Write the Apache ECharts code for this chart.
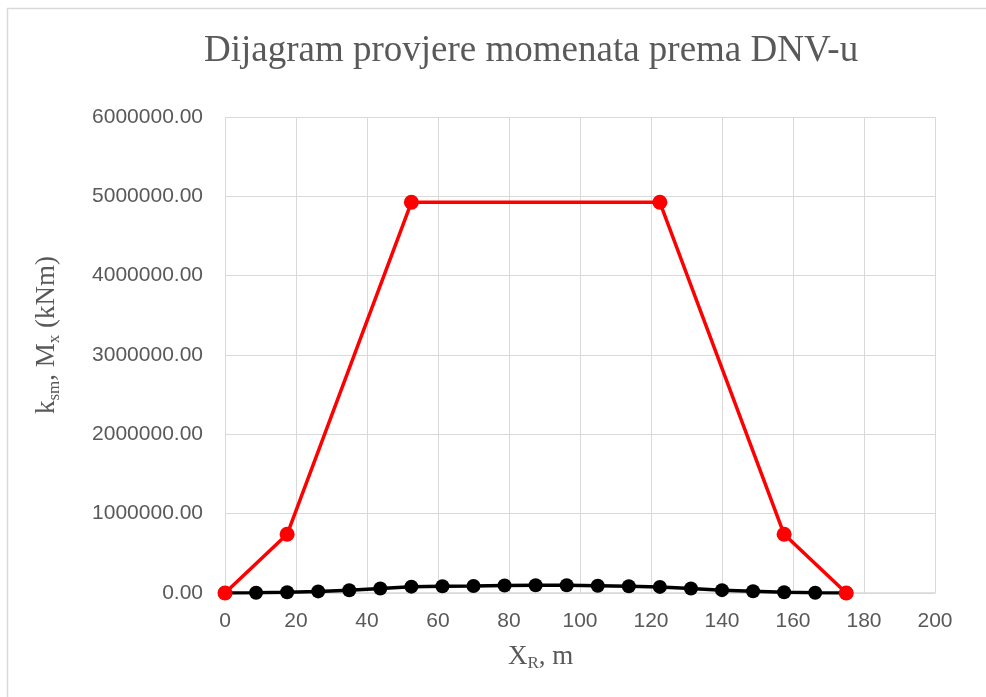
<!DOCTYPE html>
<html>
<head>
<meta charset="utf-8">
<script src="https://cdn.jsdelivr.net/npm/echarts@6/dist/echarts.min.js"></script>
<style>
  html, body { margin: 0; padding: 0; background: #fff; }
  #chart { width: 986px; height: 697px; }
</style>
</head>
<body>
<div id="chart"></div>
<script>
// Station positions along the hull, m
const xPositions = [0, 8.75, 17.5, 26.25, 35, 43.75, 52.5, 61.25, 70, 78.75, 87.5,
                    96.25, 105, 113.75, 122.5, 131.25, 140, 148.75, 157.5, 166.25, 175];
// Still-water bending moment Mx, kNm
const momentValues = [0, 3000, 10000, 20000, 35000, 56000, 80000, 86000, 88000, 94000, 97000,
                      97000, 92000, 86000, 77000, 57000, 36000, 22000, 10000, 3000, 0];
// DNV permissible moment envelope k_sm
const envelopeX = [0, 17.5, 52.5, 122.5, 157.5, 175];
const envelopeValues = [0, 740000, 4925000, 4925000, 740000, 0];

const titleText = 'Dijagram provjere momenata prema DNV-u';
const xAxisTicks = [0, 20, 40, 60, 80, 100, 120, 140, 160, 180, 200];
const yAxisTicks = [0, 1000000, 2000000, 3000000, 4000000, 5000000, 6000000];

const gray = '#595959';
const gridGray = '#d9d9d9';
const labelFont = '"Liberation Sans", Arial, sans-serif';
const serifFont = '"Liberation Serif", "Times New Roman", serif';

const chart = echarts.init(document.getElementById('chart'), null, { renderer: 'canvas' });

chart.setOption({
  animation: false,
  backgroundColor: '#fff',
  graphic: [{
    type: 'rect',
    shape: { x: 7.5, y: 8.5, width: 1000, height: 720 },
    style: { fill: 'none', stroke: gridGray, lineWidth: 1.5 },
    silent: true
  }, {
    type: 'text',
    left: 204,
    top: 33,
    style: { text: titleText, font: '37px ' + serifFont, fill: gray }
  }, {
    type: 'text',
    left: 508,
    top: 643,
    style: {
      text: '{b|X}{s|R}{b|, m}',
      rich: {
        b: { fontFamily: serifFont, fontSize: 27, fill: gray },
        s: { fontFamily: serifFont, fontSize: 17, fill: gray, padding: [15, 0, 0, 0] }
      }
    }
  }],
  grid: { left: 225, right: 51, top: 117, bottom: 104, containLabel: false },
  xAxis: {
    type: 'value',
    min: xAxisTicks[0],
    max: xAxisTicks[xAxisTicks.length - 1],
    interval: 20,
    axisLine: { show: true, lineStyle: { color: gridGray, width: 1.5 } },
    axisTick: { show: false },
    splitLine: { show: true, lineStyle: { color: gridGray, width: 1 } },
    axisLabel: { color: gray, fontFamily: labelFont, fontSize: 21, margin: 18 }
  },
  yAxis: {
    type: 'value',
    min: yAxisTicks[0],
    max: yAxisTicks[yAxisTicks.length - 1],
    interval: 1000000,
    name: '{b|k}{s|sm}{b|, M}{s|x}{b| (kNm)}',
    nameLocation: 'middle',
    nameGap: 162,
    nameRotate: 90,
    nameTextStyle: {
      padding: [0, 0, 0, 40],
      rich: {
        b: { fontFamily: serifFont, fontSize: 27, color: gray },
        s: { fontFamily: serifFont, fontSize: 17, color: gray, padding: [15, 0, 0, 0] }
      }
    },
    axisLine: { show: false },
    axisTick: { show: false },
    splitLine: { show: true, lineStyle: { color: gridGray, width: 1 } },
    axisLabel: {
      color: gray, fontFamily: labelFont, fontSize: 21, margin: 22,
      formatter: v => v.toFixed(2)
    }
  },
  series: [{
    name: 'Mx',
    type: 'line',
    data: xPositions.map((x, i) => [x, momentValues[i]]),
    symbol: 'circle',
    symbolSize: 14,
    itemStyle: { color: '#000' },
    lineStyle: { color: '#000', width: 3.5 },
    z: 2
  }, {
    name: 'ksm',
    type: 'line',
    data: envelopeX.map((x, i) => [x, envelopeValues[i]]),
    symbol: 'circle',
    symbolSize: 15,
    itemStyle: { color: '#ff0000' },
    lineStyle: { color: '#ff0000', width: 3.5 },
    z: 3
  }]
});
</script>
</body>
</html>
